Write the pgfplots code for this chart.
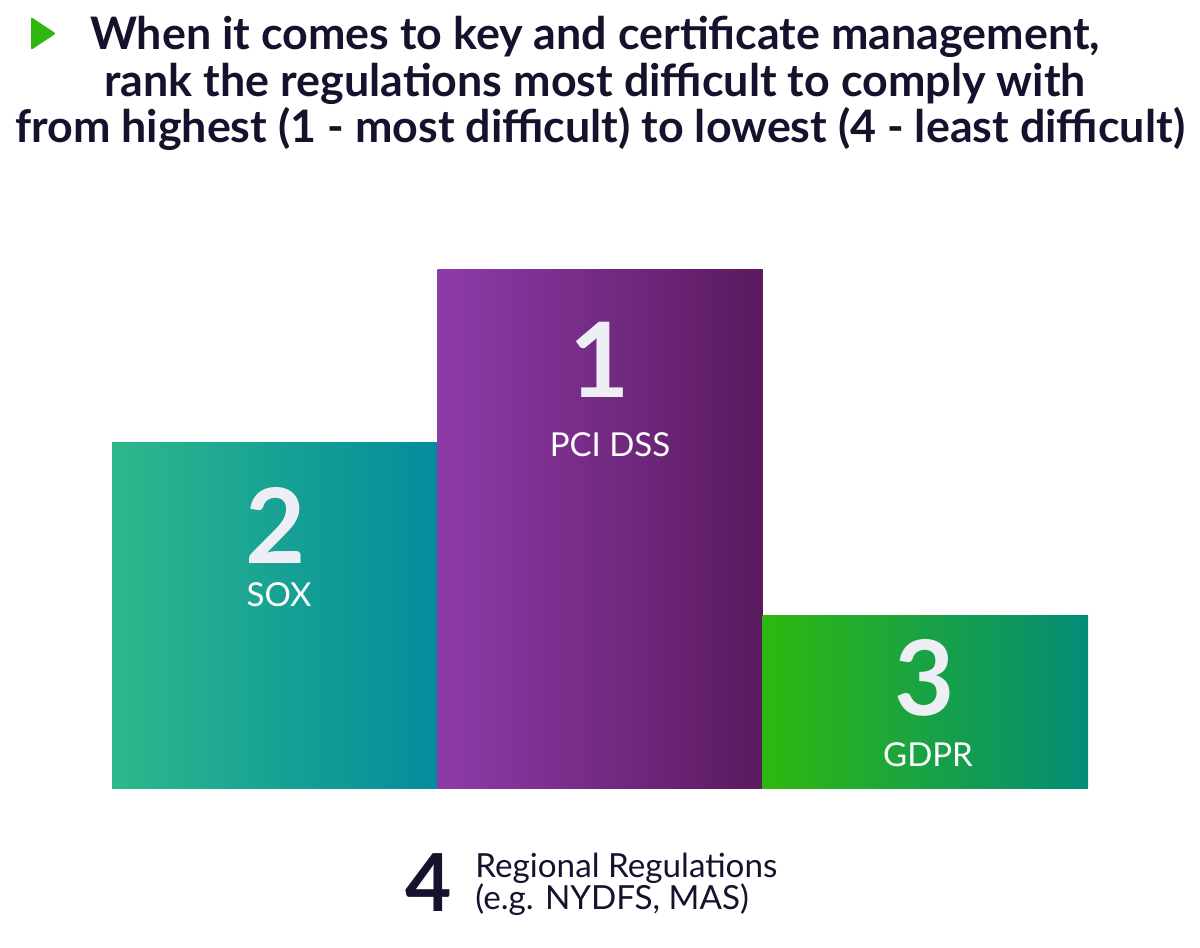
\documentclass[border=0pt]{standalone}
\usepackage{pgfplots}
\pgfplotsset{compat=1.18}
\usepackage{fontspec}
\setmainfont{Lato}
\definecolor{ink}{HTML}{16122E}
\definecolor{soxL}{HTML}{2DB88C}
\definecolor{soxR}{HTML}{038C9C}
\definecolor{pciL}{HTML}{8E3BAA}
\definecolor{pciR}{HTML}{5A1A5E}
\definecolor{gdL}{HTML}{2EB80F}
\definecolor{gdM}{HTML}{22AC2A}
\definecolor{gdR}{HTML}{048C78}
\definecolor{numc}{HTML}{EEEFF5}
\begin{document}
\begin{tikzpicture}
    \path[use as bounding box] (0,0) rectangle (600pt,-474pt);
    \begin{axis}[
        scale only axis,
        width=488pt, height=259.5pt,
        at={(56pt,-394pt)}, anchor=south west,
        xmin=-0.5, xmax=2.5,
        ymin=0, ymax=3,
        hide axis,
        clip=false,
    ]
        % podium height: 3 = rank 1, 2 = rank 2, 1 = rank 3
        \addplot[ybar, bar width=1, bar shift=0pt, draw=none,
            left color=soxL, right color=soxR] % SOX
        coordinates {(0, 2)};
        \addplot[ybar, bar width=1, bar shift=0pt, draw=none,
            left color=pciL, right color=pciR] % PCI DSS
        coordinates {(1, 3)};
        \addplot[ybar, bar width=1, bar shift=0pt, draw=none,
            left color=gdL, middle color=gdM, right color=gdR] % GDPR
        coordinates {(2, 1)};
    \end{axis}
    \begin{scope}[x=0.5pt, y=-0.5pt, every node/.style={inner sep=0pt}]
        % title
        \fill[gdL, rounded corners=1pt] (31,17) -- (31,50) -- (56,33.5) -- cycle;
        \node[anchor=base, text=ink, font=\fontsize{22.4}{26}\selectfont\bfseries] at (595,49)
            {When it comes to key and certificate management,};
        \node[anchor=base, text=ink, font=\fontsize{22.4}{26}\selectfont\bfseries] at (595,96)
            {rank the regulations most difficult to comply with};
        \node[anchor=base, text=ink, font=\fontsize{22.4}{26}\selectfont\bfseries] at (600,142)
            {from highest (1 - most difficult) to lowest (4 - least difficult)};
        % bar labels
        \node[anchor=base, text=numc, font=\fontsize{52}{60}\selectfont\bfseries] at (276,563) {2};
        \node[anchor=base, text=white, font=\fontsize{16.5}{20}\selectfont] at (279,606) {SOX};
        \node[anchor=base, text=numc, font=\fontsize{52}{60}\selectfont\bfseries] at (600,397) {1};
        \node[anchor=base, text=white, font=\fontsize{16.5}{20}\selectfont] at (610,456) {PCI DSS};
        \node[anchor=base, text=numc, font=\fontsize{52}{60}\selectfont\bfseries] at (925,715) {3};
        \node[anchor=base, text=white, font=\fontsize{16.5}{20}\selectfont] at (928,766) {GDPR};
        % rank 4 note
        \node[anchor=base, text=ink, font=\fontsize{40}{45}\selectfont\bfseries] at (429,911) {4};
        \node[anchor=base west, text=ink, font=\fontsize{16.6}{20}\selectfont] at (475,877) {Regional Regulations};
        \node[anchor=base west, text=ink, font=\fontsize{16.6}{20}\selectfont] at (475,909) {(e.g. NYDFS, MAS)};
    \end{scope}
\end{tikzpicture}
\end{document}
